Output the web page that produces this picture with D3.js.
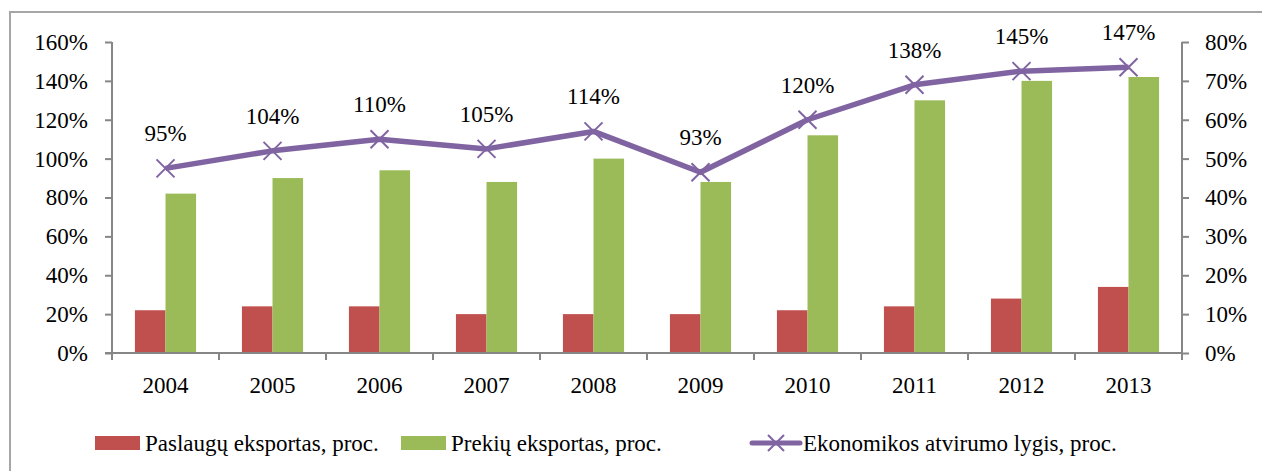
<!DOCTYPE html>
<html>
<head>
<meta charset="utf-8">
<script src="https://cdn.jsdelivr.net/npm/d3@7/dist/d3.min.js"></script>
<style>
  body { margin: 0; background: #fff; }
</style>
</head>
<body>
<script>
var width = 1262,
    height = 471;

// duomenys
var years = ["2004", "2005", "2006", "2007", "2008", "2009", "2010", "2011", "2012", "2013"];
var paslaugos = [11, 12, 12, 10, 10, 10, 11, 12, 14, 17];
var prekes = [41, 45, 47, 44, 50, 44, 56, 65, 70, 71];
var atvirumas = [95, 104, 110, 105, 114, 93, 120, 138, 145, 147];
var leftTicks = [0, 20, 40, 60, 80, 100, 120, 140, 160];
var rightTicks = [0, 10, 20, 30, 40, 50, 60, 70, 80];
var legendNames = ["Paslaugų eksportas, proc.", "Prekių eksportas, proc.", "Ekonomikos atvirumo lygis, proc."];

var colors = { red: "#C0504D", green: "#9BBB59", purple: "#8064A2", axis: "#868686" };
var font = "'Liberation Serif', 'Times New Roman', 'DejaVu Serif', serif";

var margin = { left: 112, right: 80, top: 42, bottom: 118 };
var x0 = margin.left, x1 = width - margin.right;
var y0 = height - margin.bottom, y1 = margin.top;

var svg = d3.select("body").append("svg")
    .attr("width", width)
    .attr("height", height);

// remelis
svg.append("rect")
    .attr("x", 10).attr("y", 12)
    .attr("width", width + 10).attr("height", height + 10)
    .attr("fill", "none")
    .attr("stroke", "#a6a6a6")
    .attr("stroke-width", 2);

var x = d3.scaleBand().domain(years).range([x0, x1]);
var xBar = d3.scaleBand().domain(["p", "k"]).range([0, x.bandwidth()]).paddingOuter(0.75).paddingInner(0);
var yLeft = d3.scaleLinear().domain([0, 160]).range([y0, y1]);
var yRight = d3.scaleLinear().domain([0, 80]).range([y0, y1]);

var pct = function(d) { return d + "%"; };

// kaire asis
var gl = svg.append("g")
    .attr("transform", "translate(" + x0 + ",0)")
    .call(d3.axisLeft(yLeft).tickValues(leftTicks).tickFormat(pct).tickSize(7).tickPadding(17));

// desine asis
var gr = svg.append("g")
    .attr("transform", "translate(" + x1 + ",0)")
    .call(d3.axisRight(yRight).tickValues(rightTicks).tickFormat(pct).tickSize(7).tickPadding(16));

[gl, gr].forEach(function(g) {
  g.attr("font-family", null).attr("font-size", null);
  g.selectAll("path").attr("stroke", colors.axis).attr("stroke-width", 2).attr("d", "M0," + y0 + "V" + y1);
  g.selectAll("line").attr("stroke", colors.axis).attr("stroke-width", 2);
  g.selectAll("text").style("font-size", "23px").style("font-family", font).attr("fill", "#000");
});

// stulpeliai
var groups = svg.selectAll(".year")
    .data(years)
    .enter().append("g")
    .attr("class", "year")
    .attr("transform", function(d) { return "translate(" + x(d) + ",0)"; });

groups.append("rect")
    .attr("x", xBar("p"))
    .attr("width", xBar.bandwidth())
    .attr("y", function(d, i) { return yRight(paslaugos[i]); })
    .attr("height", function(d, i) { return y0 - yRight(paslaugos[i]); })
    .attr("fill", colors.red);

groups.append("rect")
    .attr("x", xBar("k"))
    .attr("width", xBar.bandwidth())
    .attr("y", function(d, i) { return yRight(prekes[i]); })
    .attr("height", function(d, i) { return y0 - yRight(prekes[i]); })
    .attr("fill", colors.green);

// x asis
var gx = svg.append("g")
    .attr("transform", "translate(0," + y0 + ")");
gx.append("line")
    .attr("x1", x0 - 7).attr("x2", x1)
    .attr("stroke", colors.axis).attr("stroke-width", 2);
gx.selectAll(".tk")
    .data(years.concat(["end"]))
    .enter().append("line")
    .attr("x1", function(d, i) { return x0 + i * x.step(); })
    .attr("x2", function(d, i) { return x0 + i * x.step(); })
    .attr("y1", 0).attr("y2", 7)
    .attr("stroke", colors.axis).attr("stroke-width", 2);
gx.selectAll(".lbl")
    .data(years)
    .enter().append("text")
    .attr("x", function(d) { return x(d) + x.bandwidth() / 2; })
    .attr("y", 40)
    .attr("text-anchor", "middle")
    .style("font-size", "23px")
    .style("font-family", font)
    .text(function(d) { return d; });

// linija
var cx = function(d, i) { return x(years[i]) + x.bandwidth() / 2; };
var line = d3.line()
    .x(cx)
    .y(function(d) { return yLeft(d); });

svg.append("path")
    .datum(atvirumas)
    .attr("d", line)
    .attr("fill", "none")
    .attr("stroke", colors.purple)
    .attr("stroke-width", 5.5)
    .attr("stroke-linejoin", "round");

var cross = function(px, py, s) {
  return "M" + (px - s) + "," + (py - s) + "L" + (px + s) + "," + (py + s) +
         "M" + (px - s) + "," + (py + s) + "L" + (px + s) + "," + (py - s);
};

svg.selectAll(".mark")
    .data(atvirumas)
    .enter().append("path")
    .attr("d", function(d, i) { return cross(cx(d, i), yLeft(d), 9); })
    .attr("stroke", colors.purple)
    .attr("stroke-width", 2);

svg.selectAll(".val")
    .data(atvirumas)
    .enter().append("text")
    .attr("x", cx)
    .attr("y", function(d) { return yLeft(d) - 27; })
    .attr("text-anchor", "middle")
    .style("font-size", "23px")
    .style("font-family", font)
    .text(pct);

// legenda
var leg = svg.append("g").attr("transform", "translate(0,443)");
var legX = [95, 401, 752];

leg.append("rect").attr("x", legX[0]).attr("y", -7).attr("width", 45).attr("height", 14).attr("fill", colors.red);
leg.append("rect").attr("x", legX[1]).attr("y", -7).attr("width", 45).attr("height", 14).attr("fill", colors.green);
leg.append("line").attr("x1", legX[2]).attr("x2", legX[2] + 48).attr("stroke", colors.purple)
    .attr("stroke-width", 5).attr("stroke-linecap", "round");
leg.append("path").attr("d", cross(legX[2] + 24, 0, 8)).attr("stroke", colors.purple).attr("stroke-width", 2);

leg.selectAll(".lt")
    .data(legendNames)
    .enter().append("text")
    .attr("x", function(d, i) { return legX[i] + (i == 2 ? 51 : 50); })
    .attr("y", 8)
    .style("font-size", "23px")
    .style("font-family", font)
    .text(function(d) { return d; });
</script>
</body>
</html>
